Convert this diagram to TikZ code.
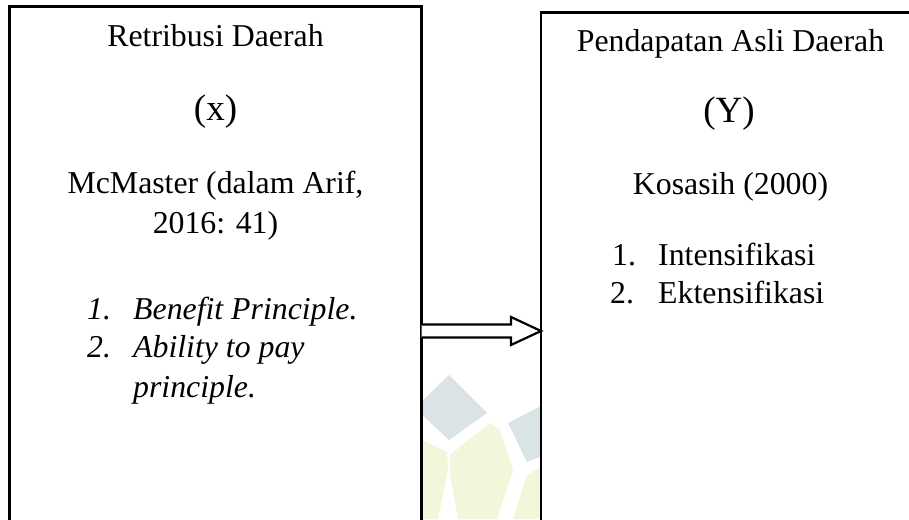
\documentclass[tikz,border=0pt]{standalone}
\usepackage{fontspec}
\setmainfont{Liberation Serif}
\usepackage{tikz}
\usetikzlibrary{calc}

\definecolor{logogray}{RGB}{218,227,229}
\definecolor{logoyellow}{RGB}{242,246,218}

\tikzset{
  kotak/.style={draw, line width=2.4pt, fill=white, rectangle, inner sep=0pt, outer sep=0pt, anchor=north west},
  teks/.style={inner sep=0pt, font=\fontsize{31.8}{38}\selectfont},
  teksmiring/.style={inner sep=0pt, font=\fontsize{31.8}{38}\selectfont\itshape},
  teksbesar/.style={inner sep=0pt, font=\fontsize{37}{44}\selectfont},
  panah/.style={line width=2.2pt, fill=white, line join=miter},
}

\begin{document}
\begin{tikzpicture}[x=1pt,y=-1pt]
\useasboundingbox (0,0) rectangle (909,519);
\clip (0,0) rectangle (909,519);

% faint logo behind the boxes
\fill[logogray] (449,375) -- (487,413) -- (449,440) -- (415,408) -- cycle;
\fill[logogray] (508,423) -- (545,404) -- (545,455) -- (527,462) -- cycle;
\fill[logoyellow] (422,440) -- (447,452) -- (448,470) -- (438,519) -- (422,519) -- cycle;
\fill[logoyellow] (450,455) -- (490,423) -- (500,430) -- (513,470) -- (497,519) -- (458,519) -- (450,475) -- cycle;
\fill[logoyellow] (527,475) -- (545,465) -- (545,519) -- (513,519) -- cycle;

% boxes
\node[kotak, minimum width=412pt, minimum height=580pt] (kiri) at (9.5,6.5) {};
\node[kotak, minimum width=390pt, minimum height=580pt] (kanan) at (541,12.5) {};

% block arrow
\coordinate (pangkal) at (kiri.east |- 0,331);
\coordinate (ujung) at (kanan.west |- 0,331);
\draw[panah] ($(pangkal)+(0,-6.5)$) -- ($(ujung)+(-30,-6.5)$) -- ($(ujung)+(-30,-14)$)
  -- (ujung) -- ($(ujung)+(-30,14)$) -- ($(ujung)+(-30,6.5)$) -- ($(pangkal)+(0,6.5)$);

% left box
\node[teks, anchor=base] (xjudul) at (215.5,47) {Retribusi Daerah};
\node[teksbesar, anchor=base] (xvar) at (215.5,120) {(x)};
\node[teks, anchor=base] (xsumber) at (215.5,193) {McMaster (dalam Arif,};
\node[teks, anchor=base] (xtahun) at (215.5,233) {2016: 41)};
\node[teksmiring, anchor=base west] (xno1) at (87,319) {1.};
\node[teksmiring, anchor=base west] (xsatu) at (133,319) {Benefit Principle.};
\node[teksmiring, anchor=base west] (xno2) at (87,357) {2.};
\node[teksmiring, anchor=base west] (xdua) at (133,357) {Ability to pay};
\node[teksmiring, anchor=base west] (xdualagi) at (133,397) {principle.};

% right box
\node[teks, anchor=base] (yjudul) at (730.5,52) {Pendapatan Asli Daerah};
\node[teksbesar, anchor=base] (yvar) at (729,122) {(Y)};
\node[teks, anchor=base] (ysumber) at (730.5,194) {Kosasih (2000)};
\node[teks, anchor=base west] (yno1) at (612,265) {1.};
\node[teks, anchor=base west] (ysatu) at (658,265) {Intensifikasi};
\node[teks, anchor=base west] (yno2) at (610,303) {2.};
\node[teks, anchor=base west] (ydua) at (658,303) {Ektensifikasi};
\end{tikzpicture}
\end{document}
